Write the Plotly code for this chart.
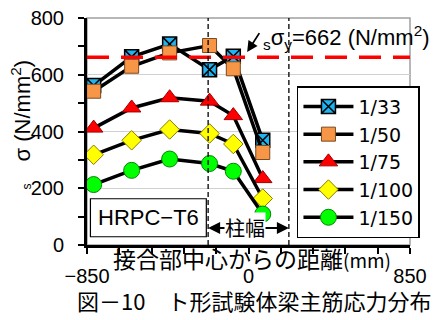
import plotly.graph_objects as go

# ---- data ----
x_pos = [-815, -615, -415, -205, -80, 75]
series_names = ["1/33", "1/50", "1/75", "1/100", "1/150"]
s_33 = [562, 663, 708, 618, 665, 369]
s_50 = [542, 630, 677, 703, 621, 326]
s_75 = [412, 483, 519, 507, 456, 234]
s_100 = [318, 369, 407, 393, 356, 164]
s_150 = [213, 263, 303, 287, 260, 109]
yield_stress = 662
col_half = 212.5
x_tick_vals = [-850, -680, -510, -340, -170, 0, 170, 340, 510, 680, 850]
x_tick_text = ["−850", "", "", "", "", "0", "", "", "", "", "850"]
y_tick_vals = [0, 200, 400, 600, 800]

JP = "Noto Sans CJK JP"
LAT = "Liberation Sans"

styles = [
    dict(symbol="square-x", color="#1FB4F0", line=dict(color="black", width=1.5), size=14),
    dict(symbol="square", color="#F79646", line=dict(color="#7A4A20", width=1), size=14),
    dict(symbol="triangle-up", color="#FF0000", line=dict(color="#A00000", width=1), size=16),
    dict(symbol="diamond", color="#FFFF00", line=dict(color="#8A7A00", width=1), size=15),
    dict(symbol="circle", color="#00FF00", line=dict(color="#008800", width=1), size=16),
]

fig = go.Figure()
for name, vals, st in zip(series_names, [s_33, s_50, s_75, s_100, s_150], styles):
    fig.add_trace(go.Scatter(
        x=x_pos, y=vals, name=name, mode="lines+markers",
        line=dict(color="black", width=3.5),
        marker=st,
    ))

shapes = [
    dict(type="rect", xref="paper", yref="paper", x0=0, x1=1, y0=0, y1=1,
         line=dict(color="#A0A0A0", width=1.5), layer="below"),
    dict(type="line", xref="x", yref="y", x0=-850, x1=850, y0=yield_stress, y1=yield_stress,
         line=dict(color="#FF0000", width=3.5, dash="22px,12px")),
    dict(type="line", xref="x", yref="y", x0=-col_half, x1=-col_half, y0=0, y1=800,
         line=dict(color="black", width=1.3, dash="5px,3px")),
    dict(type="line", xref="x", yref="y", x0=col_half, x1=col_half, y0=0, y1=800,
         line=dict(color="black", width=1.3, dash="5px,3px")),
    dict(type="rect", xref="x", yref="y", x0=-832, x1=-222, y0=29, y1=163,
         line=dict(color="black", width=1.2), fillcolor="white"),
]

annotations = [
    dict(x=-527, y=96, xref="x", yref="y", text="HRPC−T6", showarrow=False,
         font=dict(family=LAT, size=22, color="black")),
    dict(x=-col_half, y=60, xref="x", yref="y", ax=-20, ay=60, axref="x", ayref="y",
         text="", showarrow=True, arrowhead=2, arrowsize=1.2, arrowwidth=2, arrowcolor="black"),
    dict(x=col_half, y=60, xref="x", yref="y", ax=20, ay=60, axref="x", ayref="y",
         text="", showarrow=True, arrowhead=2, arrowsize=1.2, arrowwidth=2, arrowcolor="black"),
    dict(x=-20, y=60, xref="x", yref="y", text="柱幅", showarrow=False, bgcolor="white",
         borderpad=0, font=dict(family=JP, size=20, color="black")),
    dict(x=-7, y=680, xref="x", yref="y", ax=62, ay=752, axref="x", ayref="y",
         text="", showarrow=True, arrowhead=2, arrowsize=1.2, arrowwidth=1.8, arrowcolor="black"),
    dict(x=68, y=731, xref="x", yref="y", xanchor="left", yanchor="middle",
         text="<sub>s</sub>σ<sub>y</sub>=662 (N/mm<sup>2</sup>)", showarrow=False,
         font=dict(family=LAT, size=22, color="black")),
    # y-axis title (sigma part) and its separate small "s"
    dict(x=-0.205, y=0.592, xref="paper", yref="paper", textangle=-90,
         xanchor="center", yanchor="middle",
         text="σ (N/mm<sup>2</sup>)", showarrow=False,
         font=dict(family=LAT, size=22, color="black")),
    dict(x=-0.186, y=0.257, xref="paper", yref="paper", textangle=-90,
         xanchor="center", yanchor="middle",
         text="s", showarrow=False,
         font=dict(family=LAT, size=12, color="black")),
    dict(x=0.51, y=-0.057, xref="paper", yref="paper", xanchor="center", yanchor="middle",
         text="接合部中心からの距離<span style='font-size:19px'>(mm)</span>", showarrow=False,
         font=dict(family=JP, size=23, color="black")),
    dict(x=0.518, y=-0.242, xref="paper", yref="paper", xanchor="center", yanchor="middle",
         text="図－10　ト形試験体梁主筋応力分布", showarrow=False,
         font=dict(family=JP, size=22, color="black")),
]

fig.update_layout(
    template="none",
    width=433, height=312,
    margin=dict(l=79, r=31, t=10, b=75, autoexpand=False),
    paper_bgcolor="white", plot_bgcolor="white",
    showlegend=True,
    legend=dict(x=0.65, y=0.70, xanchor="left", yanchor="top",
                bgcolor="white", bordercolor="black", borderwidth=1.5,
                font=dict(family="DejaVu Sans", size=19, color="black"),
                tracegroupgap=0, itemwidth=50),
    shapes=shapes,
    annotations=annotations,
    xaxis=dict(range=[-850, 850], tickmode="array", tickvals=x_tick_vals, ticktext=x_tick_text,
               automargin=False,
               showgrid=False, zeroline=False, showline=True, linecolor="black", linewidth=3,
               ticks="outside", ticklen=6, tickwidth=2, tickcolor="black", ticklabelstandoff=5,
               ticklabeloverflow="allow",
               tickfont=dict(family=LAT, size=20, color="black")),
    yaxis=dict(range=[0, 800], tickmode="array", tickvals=y_tick_vals, automargin=False,
               showgrid=True, gridcolor="#D0D0D0", gridwidth=1, zeroline=False,
               showline=True, linecolor="black", linewidth=3,
               ticks="outside", ticklen=6, tickwidth=2, tickcolor="black", ticklabelstandoff=10,
               ticklabeloverflow="allow",
               minor=dict(tickvals=[100, 300, 500, 700], ticks="outside", ticklen=6, tickwidth=2,
                          tickcolor="black", showgrid=False),
               tickfont=dict(family=LAT, size=20, color="black")),
)

fig.write_html("out.html")
